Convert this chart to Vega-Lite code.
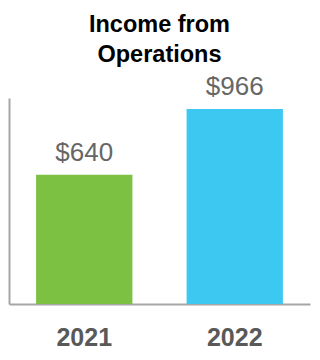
{
  "$schema": "https://vega.github.io/schema/vega-lite/v6.json",
  "width": 301,
  "height": 206,
  "autosize": {"type": "none"},
  "padding": {"left": 9, "top": 98, "right": 10, "bottom": 56},
  "background": "white",
  "title": {
    "text": ["Income from", "Operations"],
    "font": "Liberation Sans",
    "fontSize": 23.5,
    "fontWeight": "bold",
    "color": "#000000",
    "lineHeight": 30,
    "anchor": "middle",
    "offset": 7
  },
  "data": {
    "values": [
      {"year": "2021", "value": 640, "label": "$640"},
      {"year": "2022", "value": 966, "label": "$966"}
    ]
  },
  "config": {
    "view": {"stroke": null}
  },
  "encoding": {
    "x": {
      "field": "year",
      "type": "nominal",
      "scale": {"paddingInner": 0.36, "paddingOuter": 0.18},
      "axis": {
        "title": null,
        "labelAngle": 0,
        "labelFont": "Liberation Sans",
        "labelFontSize": 25,
        "labelFontWeight": "bold",
        "labelColor": "#595959",
        "labelPadding": 21,
        "ticks": false,
        "domainColor": "#a6a6a6",
        "domainWidth": 2
      }
    },
    "y": {
      "field": "value",
      "type": "quantitative",
      "scale": {"domain": [0, 1020], "nice": false},
      "axis": {
        "title": null,
        "labels": false,
        "ticks": false,
        "grid": false,
        "domainColor": "#a6a6a6",
        "domainWidth": 2
      }
    }
  },
  "layer": [
    {
      "mark": {"type": "bar"},
      "encoding": {
        "color": {
          "field": "year",
          "type": "nominal",
          "scale": {"domain": ["2021", "2022"], "range": ["#7DC142", "#3CC8F0"]},
          "legend": null
        }
      }
    },
    {
      "mark": {
        "type": "text",
        "baseline": "alphabetic",
        "dy": -14,
        "font": "Liberation Sans",
        "fontSize": 26,
        "color": "#666666"
      },
      "encoding": {"text": {"field": "label"}}
    }
  ]
}
